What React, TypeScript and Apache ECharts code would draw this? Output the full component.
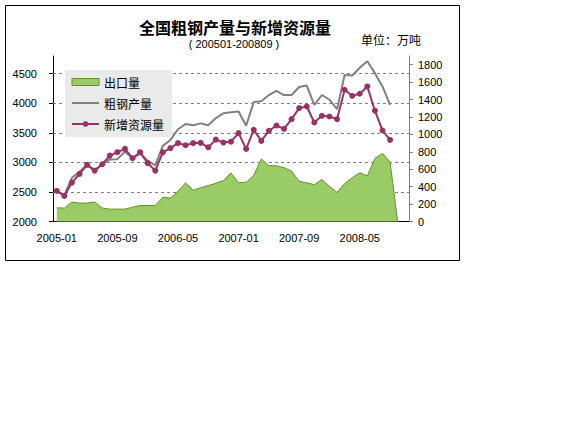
import React, { useEffect, useRef } from "react";
import * as echarts from "echarts";

const TITLE = "全国粗钢产量与新增资源量";
const SUBTITLE = "( 200501-200809 )";
const UNIT = "单位：万吨";

const CATEGORIES = [
  "2005-01", "2005-02", "2005-03", "2005-04", "2005-05", "2005-06", "2005-07", "2005-08", "2005-09", "2005-10", "2005-11", "2005-12",
  "2006-01", "2006-02", "2006-03", "2006-04", "2006-05", "2006-06", "2006-07", "2006-08", "2006-09", "2006-10", "2006-11", "2006-12",
  "2007-01", "2007-02", "2007-03", "2007-04", "2007-05", "2007-06", "2007-07", "2007-08", "2007-09", "2007-10", "2007-11", "2007-12",
  "2008-01", "2008-02", "2008-03", "2008-04", "2008-05", "2008-06", "2008-07", "2008-08", "2008-09", "2008-10", "2008-11",
];

// 出口量 (right axis)
const EXPORTS = [
  158, 153, 223, 211, 211, 225, 155, 142, 142, 142, 165, 183,
  183, 183, 278, 269, 346, 443, 360, 388, 412, 440, 470, 556,
  446, 450, 530, 718, 640, 640, 618, 578, 462, 443, 424, 482,
  404, 334, 435, 502, 560, 524, 724, 782, 683, 0,
];

// 粗钢产量 (left axis)
const PRODUCTION = [
  2515, 2450, 2740, 2840, 2960, 2870, 2960, 3050, 3055, 3180, 3070, 3150,
  3030, 2950, 3280, 3380, 3560, 3650, 3630, 3660, 3630, 3750, 3830, 3850,
  3860, 3620, 4020, 4035, 4140, 4210, 4140, 4140, 4275, 4300, 3975, 4140,
  4060, 3900, 4480, 4470, 4600, 4710, 4510, 4285, 3975,
];

// 新增资源量 (left axis)
const RESOURCES = [
  2517, 2432, 2658, 2805, 2958, 2861, 2969, 3115, 3173, 3229, 3071, 3173,
  2986, 2861, 3170, 3241, 3326, 3290, 3326, 3330, 3255, 3385, 3336, 3350,
  3495, 3229, 3551, 3364, 3534, 3624, 3568, 3732, 3919, 3946, 3675, 3788,
  3776, 3732, 4229, 4127, 4161, 4285, 3875, 3540, 3381,
];

const LEFT_TICKS = [2000, 2500, 3000, 3500, 4000, 4500];
const GRID_VALUES = [2500, 3000, 3500, 4000, 4500];
const RIGHT_TICKS = [0, 200, 400, 600, 800, 1000, 1200, 1400, 1600, 1800];

const NUM_FONT = "Liberation Sans";
const CJK_FONT = "Noto Sans CJK SC";

const plain = (v: number) => String(v);

export default function App() {
  const ref = useRef<HTMLDivElement>(null);

  useEffect(() => {
    if (!ref.current) return;
    const chart = echarts.init(ref.current, null, { renderer: "svg" });
    const option: any = {
      animation: false,
      backgroundColor: "#ffffff",
      grid: { left: 53, right: 167, top: 56, bottom: 210.5, containLabel: false },
      legend: {
        data: [
          { name: "出口量", icon: "rect", itemStyle: { color: "#99CC66", borderColor: "#6B8E23", borderWidth: 1 } },
          { name: "粗钢产量", itemStyle: { color: "rgba(0,0,0,0)", borderWidth: 0 } },
          { name: "新增资源量" },
        ],
        orient: "vertical",
        left: 65,
        top: 70,
        itemWidth: 27,
        itemHeight: 7,
        itemGap: 7,
        padding: [5, 8, 6, 6],
        backgroundColor: "#EAEAEA",
        selectedMode: false,
        textStyle: { fontSize: 12, fontFamily: CJK_FONT, color: "#000", lineHeight: 14 },
      },
      xAxis: {
        type: "category",
        data: CATEGORIES,
        boundaryGap: true,
        axisLine: { lineStyle: { color: "#000", width: 1 } },
        axisTick: { interval: 7, length: 4, lineStyle: { color: "#000" } },
        axisLabel: { interval: 7, margin: 11, fontSize: 11, color: "#000", fontFamily: NUM_FONT },
        splitLine: { show: false },
      },
      yAxis: [
        {
          type: "value",
          min: 2000,
          max: 4800,
          interval: 500,
          position: "left",
          axisLine: { show: true, lineStyle: { color: "#000" } },
          axisTick: { show: true, length: 4, lineStyle: { color: "#000" }, customValues: LEFT_TICKS },
          axisLabel: { customValues: LEFT_TICKS, formatter: plain, margin: 16, fontSize: 11, color: "#000", fontFamily: NUM_FONT },
          splitLine: { show: false },
        },
        {
          type: "value",
          min: 0,
          max: 1900,
          interval: 200,
          position: "right",
          axisLine: { show: true, lineStyle: { color: "#808080" } },
          axisTick: { show: true, length: 4, lineStyle: { color: "#808080" }, customValues: RIGHT_TICKS },
          axisLabel: { customValues: RIGHT_TICKS, formatter: plain, margin: 9, fontSize: 11, color: "#000", fontFamily: NUM_FONT },
          splitLine: { show: false },
        },
      ],
      series: [
        {
          name: "出口量",
          type: "line",
          xAxisIndex: 0,
          yAxisIndex: 1,
          data: EXPORTS,
          symbol: "none",
          showSymbol: false,
          z: 2,
          itemStyle: { color: "#99CC66" },
          lineStyle: { color: "#6B8E23", width: 1 },
          areaStyle: { color: "#99CC66", opacity: 1 },
        },
        {
          name: "粗钢产量",
          type: "line",
          xAxisIndex: 0,
          yAxisIndex: 0,
          data: PRODUCTION,
          symbol: "none",
          showSymbol: false,
          z: 3,
          itemStyle: { color: "#808080" },
          lineStyle: { color: "#808080", width: 2 },
          markLine: {
            silent: true,
            z: 1,
            symbol: "none",
            label: { show: false },
            lineStyle: { color: "#808080", type: [3, 3], width: 1 },
            data: GRID_VALUES.map((v) => ({ yAxis: v })),
          },
        },
        {
          name: "新增资源量",
          type: "line",
          xAxisIndex: 0,
          yAxisIndex: 0,
          data: RESOURCES,
          symbol: "circle",
          symbolSize: 6,
          showSymbol: true,
          showAllSymbol: true,
          z: 4,
          itemStyle: { color: "#993366" },
          lineStyle: { color: "#993366", width: 2 },
        },
      ],
      graphic: [
        {
          type: "rect",
          shape: { x: 5.5, y: 5.5, width: 454, height: 255 },
          style: { fill: "none", stroke: "#000", lineWidth: 1 },
          z: 0,
        },
        {
          type: "text",
          x: 235,
          y: 27,
          style: {
            text: TITLE,
            fontSize: 16,
            fontWeight: "bold",
            fontFamily: CJK_FONT,
            fill: "#000",
            align: "center",
            verticalAlign: "middle",
            textAlign: "center",
            textVerticalAlign: "middle",
          },
        },
        {
          type: "text",
          x: 234,
          y: 44,
          style: {
            text: SUBTITLE,
            fontSize: 11,
            fontFamily: NUM_FONT,
            fill: "#000",
            align: "center",
            verticalAlign: "middle",
            textAlign: "center",
            textVerticalAlign: "middle",
          },
        },
        {
          type: "text",
          x: 361,
          y: 39,
          style: {
            text: UNIT,
            fontSize: 12,
            fontFamily: CJK_FONT,
            fill: "#000",
            align: "left",
            verticalAlign: "middle",
            textAlign: "left",
            textVerticalAlign: "middle",
          },
        },
      ],
    };
    chart.setOption(option);
    return () => chart.dispose();
  }, []);

  return (
    <div
      ref={ref}
      style={{ position: "absolute", left: 0, top: 0, width: 576, height: 432 }}
    />
  );
}
